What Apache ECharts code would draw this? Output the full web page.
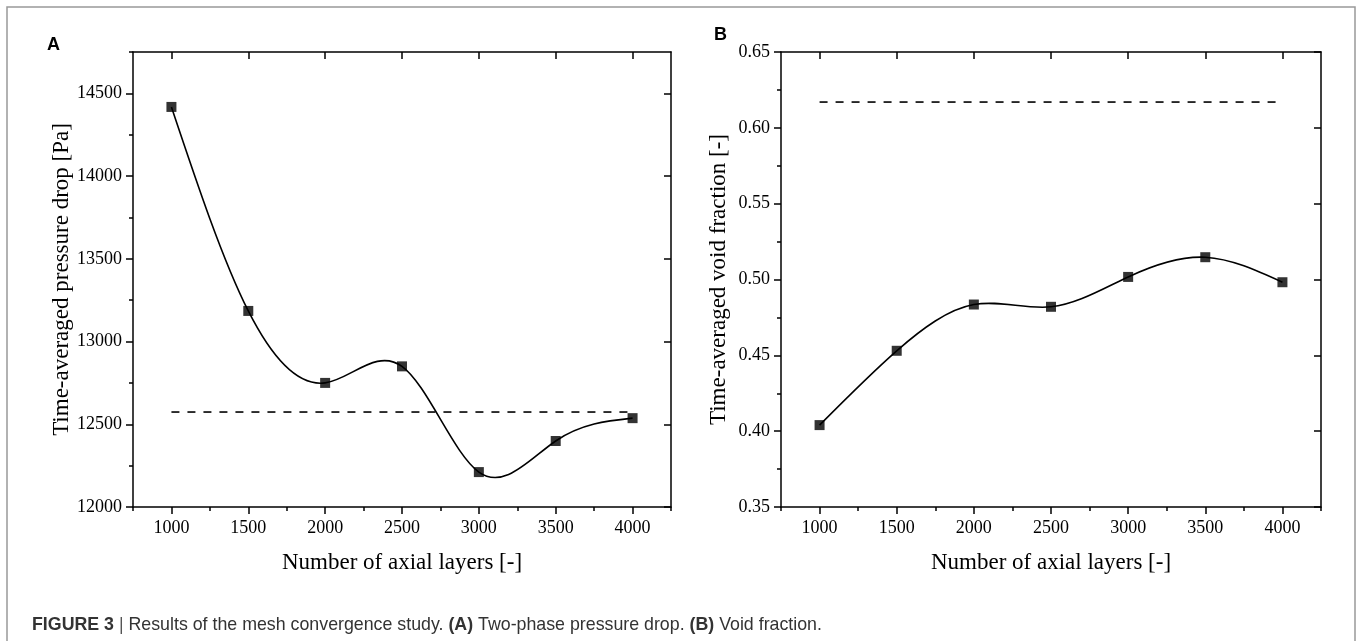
<!DOCTYPE html>
<html>
<head>
<meta charset="utf-8">
<script src="https://cdn.jsdelivr.net/npm/echarts@6/dist/echarts.min.js"></script>
<style>
  html, body { margin: 0; padding: 0; background: #fff; }
  #chart { width: 1357px; height: 641px; }
</style>
</head>
<body>
<div id="chart"></div>
<script>
// Mesh convergence study: number of axial layers vs. time-averaged quantities
const axialLayers = [1000, 1500, 2000, 2500, 3000, 3500, 4000];
const pressureDrop = [14418, 13185, 12750, 12850, 12211, 12399, 12537];   // Pa
const voidFraction = [0.404, 0.453, 0.4835, 0.482, 0.5017, 0.5147, 0.4982];
const pressureRef = 12574;   // dashed reference level, panel A
const voidRef = 0.617;       // dashed reference level, panel B

const xMajor = [1000, 1500, 2000, 2500, 3000, 3500, 4000];
const xMinor = [750, 1250, 1750, 2250, 2750, 3250, 3750, 4250];
const pMajor = [12000, 12500, 13000, 13500, 14000, 14500];
const pMinor = [12250, 12750, 13250, 13750, 14250, 14750];
const vMajor = [0.35, 0.40, 0.45, 0.50, 0.55, 0.60, 0.65];
const vMinor = [0.375, 0.425, 0.475, 0.525, 0.575, 0.625];

const SERIF = 'Liberation Serif, Times New Roman, serif';
const SANS = 'Liberation Sans, Arial, sans-serif';
const LINE = { color: '#000', width: 1.5 };

// Natural cubic spline through pixel points, written as cubic bezier segments
function splinePath(p) {
  const n = p.length, h = [], M = new Array(n).fill(0);
  for (let i = 0; i < n - 1; i++) h.push(p[i + 1][0] - p[i][0]);
  const a = [], b = [], c = [], d = [];
  for (let i = 1; i < n - 1; i++) {
    a.push(h[i - 1]); b.push(2 * (h[i - 1] + h[i])); c.push(h[i]);
    d.push(6 * ((p[i + 1][1] - p[i][1]) / h[i] - (p[i][1] - p[i - 1][1]) / h[i - 1]));
  }
  const m = b.length;
  for (let i = 1; i < m; i++) {
    const w = a[i] / b[i - 1];
    b[i] -= w * c[i - 1];
    d[i] -= w * d[i - 1];
  }
  const sol = new Array(m);
  for (let i = m - 1; i >= 0; i--) sol[i] = (d[i] - (i < m - 1 ? c[i] * sol[i + 1] : 0)) / b[i];
  for (let i = 0; i < m; i++) M[i + 1] = sol[i];
  let path = 'M' + p[0][0] + ' ' + p[0][1];
  for (let i = 0; i < n - 1; i++) {
    const s = (p[i + 1][1] - p[i][1]) / h[i];
    const d0 = s - h[i] * (2 * M[i] + M[i + 1]) / 6;
    const d1 = s + h[i] * (M[i] + 2 * M[i + 1]) / 6;
    const k = h[i] / 3;
    path += ' C' + (p[i][0] + k) + ' ' + (p[i][1] + d0 * k) + ' ' +
      (p[i + 1][0] - k) + ' ' + (p[i + 1][1] - d1 * k) + ' ' +
      p[i + 1][0] + ' ' + p[i + 1][1];
  }
  return path;
}

// Axes for one panel: labelled bottom/left, minor-tick overlays, mirrored top/right
function panelAxes(g, yMin, yMax, yMajor, yMinor, yFmt, yName, yNameGap) {
  const xs = [
    {
      gridIndex: g, type: 'value', min: 750, max: 4250, position: 'bottom',
      axisLine: { lineStyle: LINE },
      axisTick: { customValues: xMajor, length: 7, lineStyle: LINE },
      axisLabel: { customValues: xMajor, margin: 12, color: '#000', fontFamily: SERIF, fontSize: 18,
        formatter: v => String(v) },
      splitLine: { show: false },
      name: 'Number of axial layers [-]', nameLocation: 'middle', nameGap: 44,
      nameTextStyle: { color: '#000', fontFamily: SERIF, fontSize: 23 }
    },
    {
      gridIndex: g, type: 'value', min: 750, max: 4250, position: 'bottom',
      axisLine: { show: false },
      axisTick: { customValues: xMinor, length: 4, lineStyle: LINE },
      axisLabel: { show: false }, splitLine: { show: false }
    },
    {
      gridIndex: g, type: 'value', min: 750, max: 4250, position: 'top',
      axisLine: { lineStyle: LINE },
      axisTick: { customValues: xMajor, inside: true, length: 7, lineStyle: LINE },
      axisLabel: { show: false }, splitLine: { show: false }
    }
  ];
  const ys = [
    {
      gridIndex: g, type: 'value', min: yMin, max: yMax, position: 'left',
      axisLine: { show: true, lineStyle: LINE },
      axisTick: { show: true, customValues: yMajor, length: 7, lineStyle: LINE },
      axisLabel: { customValues: yMajor, margin: 11, color: '#000', fontFamily: SERIF, fontSize: 18, formatter: yFmt },
      splitLine: { show: false },
      name: yName, nameLocation: 'middle', nameRotate: 90, nameGap: yNameGap,
      nameTextStyle: { color: '#000', fontFamily: SERIF, fontSize: 23 }
    },
    {
      gridIndex: g, type: 'value', min: yMin, max: yMax, position: 'left',
      axisLine: { show: false },
      axisTick: { show: true, customValues: yMinor, length: 4, lineStyle: LINE },
      axisLabel: { show: false }, splitLine: { show: false }
    },
    {
      gridIndex: g, type: 'value', min: yMin, max: yMax, position: 'right',
      axisLine: { show: true, lineStyle: LINE },
      axisTick: { show: true, customValues: yMajor, inside: true, length: 7, lineStyle: LINE },
      axisLabel: { show: false }, splitLine: { show: false }
    }
  ];
  return { xs, ys };
}

const axA = panelAxes(0, 12000, 14750, pMajor, pMinor, v => String(v),
  'Time-averaged pressure drop [Pa]', 60);
const axB = panelAxes(1, 0.35, 0.65, vMajor, vMinor, v => v.toFixed(2),
  'Time-averaged void fraction [-]', 51);

function panelSeries(xIdx, yIdx, values, ref) {
  return [
    {
      type: 'custom', xAxisIndex: xIdx, yAxisIndex: yIdx, silent: true, z: 2,
      data: [[axialLayers[0], values[0]]],
      renderItem: (params, api) => {
        const pts = axialLayers.map((x, i) => api.coord([x, values[i]]));
        return {
          type: 'path',
          shape: { pathData: splinePath(pts) },
          style: { fill: 'none', stroke: '#000', lineWidth: 1.6 }
        };
      }
    },
    {
      type: 'line', xAxisIndex: xIdx, yAxisIndex: yIdx, silent: true, z: 1,
      symbol: 'none',
      data: [[axialLayers[0], ref], [axialLayers[axialLayers.length - 1], ref]],
      lineStyle: { color: '#000', width: 1.6, type: [8, 8] }
    },
    {
      type: 'scatter', xAxisIndex: xIdx, yAxisIndex: yIdx, silent: true, z: 3,
      symbol: 'rect', symbolSize: 10,
      itemStyle: { color: '#000' },
      data: axialLayers.map((x, i) => [x, values[i]])
    }
  ];
}

const chart = echarts.init(document.getElementById('chart'), null, { renderer: 'canvas' });
chart.setOption({
  animation: false,
  backgroundColor: '#fff',
  grid: [
    { left: 133, top: 52, width: 538, height: 455 },
    { left: 781, top: 52, width: 540, height: 455 }
  ],
  xAxis: [...axA.xs, ...axB.xs],
  yAxis: [...axA.ys, ...axB.ys],
  series: [
    ...panelSeries(0, 0, pressureDrop, pressureRef),
    ...panelSeries(3, 3, voidFraction, voidRef)
  ],
  graphic: [
    {
      type: 'rect', silent: true,
      shape: { x: 7, y: 7, width: 1348, height: 700 },
      style: { fill: 'none', stroke: '#999', lineWidth: 1.5 }
    },
    {
      type: 'text', left: 47, top: 36,
      style: { text: 'A', fill: '#000', font: 'bold 18px ' + SANS }
    },
    {
      type: 'text', left: 714, top: 26,
      style: { text: 'B', fill: '#000', font: 'bold 18px ' + SANS }
    },
    {
      type: 'text', left: 32, top: 616,
      style: {
        text: '{b|FIGURE 3} {p||} Results of the mesh convergence study. {b|(A)} Two-phase pressure drop. {b|(B)} Void fraction.',
        fill: '#333', fontFamily: SANS, fontSize: 17.8,
        rich: {
          b: { fontWeight: 'bold', fill: '#333', fontFamily: SANS, fontSize: 17.8 },
          p: { fill: '#555', fontFamily: SANS, fontSize: 17.8 }
        }
      }
    }
  ]
});
</script>
</body>
</html>
